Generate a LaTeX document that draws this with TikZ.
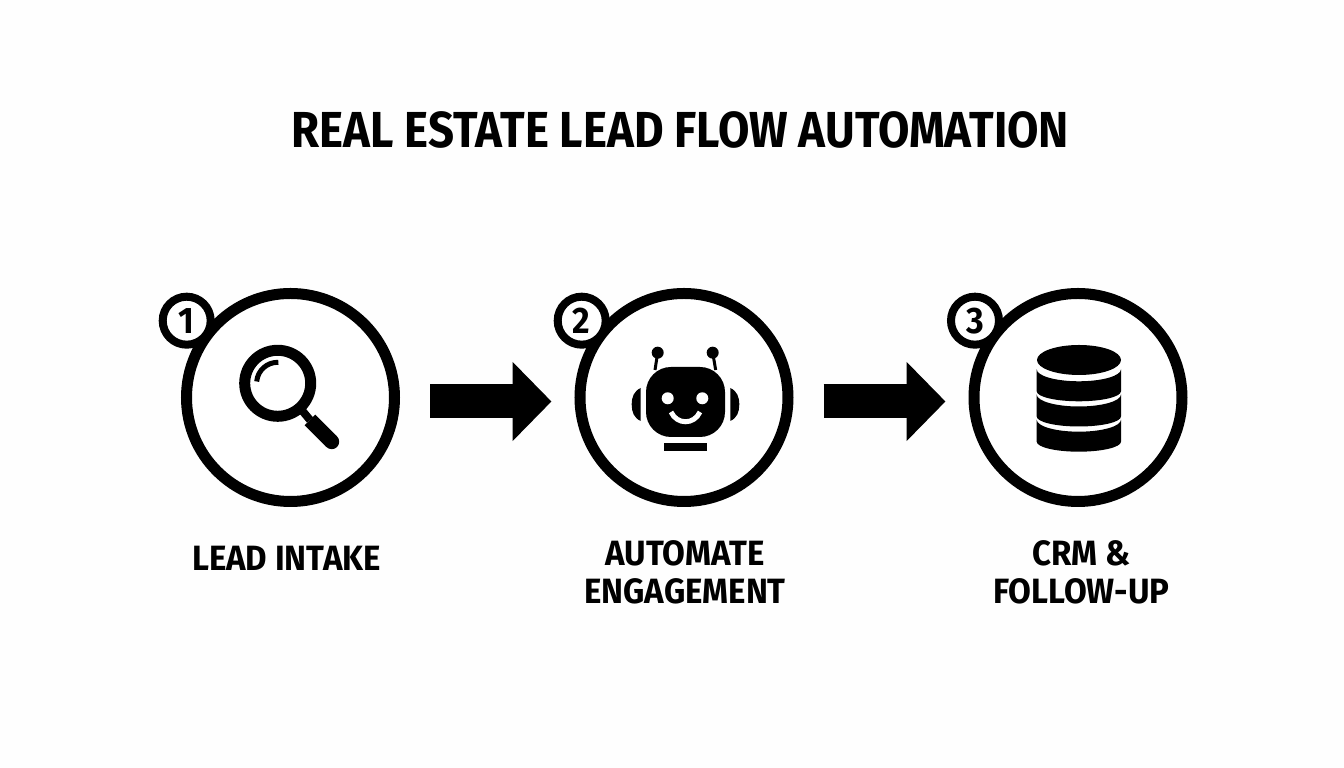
\documentclass[tikz,border=0pt]{standalone}
\usepackage{fontspec}
\setmainfont{Fira Sans}
\newfontfamily\titlefont[FakeStretch=0.9]{Fira Sans}
\newfontfamily\capfont[FakeStretch=0.94]{Fira Sans}
\newfontfamily\numfont[FakeStretch=0.92]{Fira Sans}
\usetikzlibrary{arrows.meta}
\definecolor{paper}{HTML}{FEFEFE}
\tikzset{
  stage/.style={circle,draw,fill=white,line width=0.11cm,minimum size=2.08cm,inner sep=0pt},
  badge/.style={circle,draw,fill=white,line width=0.08cm,minimum size=0.48cm,inner sep=0pt,font=\numfont\fontsize{10.5}{10.5}\selectfont\bfseries},
  flow/.style={-{Triangle[length=0.39cm,width=0.77cm]},line width=0.34cm,shorten <=0.30cm,shorten >=0.23cm},
  title/.style={font=\titlefont\fontsize{14.4}{14.4}\selectfont\bfseries},
  caption/.style={align=center,font=\capfont\fontsize{10}{10.8}\selectfont\bfseries}
}
\begin{document}
\begin{tikzpicture}
\useasboundingbox[fill=paper] (0,0) rectangle (13.44,7.68);
\node[title] (head) at (6.805,6.38) {REAL ESTATE LEAD FLOW AUTOMATION};
\node[stage] (lead) at (2.905,3.705) {};
\node[stage] (auto) at (6.84,3.705) {};
\node[stage] (crm) at (10.78,3.705) {};
\node[badge] (b1) at (1.867,4.473) {1};
\node[badge] (b2) at (5.817,4.473) {2};
\node[badge] (b3) at (9.75,4.473) {3};
\draw[flow] ([yshift=-0.04cm]lead.east) -- ([yshift=-0.04cm]auto.west);
\draw[flow] ([yshift=-0.04cm]auto.east) -- ([yshift=-0.04cm]crm.west);
\node[caption] (t1) at (2.865,2.10) {LEAD INTAKE};
\node[caption] (t2) at (6.85,1.96) {AUTOMATE\\ENGAGEMENT};
\node[caption] (t3) at (10.815,1.96) {CRM \&\\FOLLOW-UP};
% magnifier
\draw[line width=0.11cm] (2.777,3.847) circle (0.33);
\draw[line width=0.05cm] (2.567,3.865) arc (175:88:0.21);
\draw[line width=0.08cm] (3.0,3.6) -- (3.10,3.48);
\draw[line width=0.15cm] (3.10,3.48) -- (3.317,3.263);
\fill (3.317,3.263) circle (0.075);
% robot
\fill[rounded corners=0.25cm] (6.46,3.31) rectangle (7.25,4.01);
\fill[white] (6.677,3.697) circle (0.06);
\fill[white] (7.023,3.697) circle (0.06);
\draw[white,line width=0.05cm] (6.71,3.56) .. controls (6.77,3.43) and (6.94,3.43) .. (7.0,3.56);
\fill (6.407,3.80) -- (6.407,3.47) .. controls (6.34,3.50) and (6.317,3.56) .. (6.317,3.635) .. controls (6.317,3.71) and (6.34,3.77) .. (6.407,3.80) -- cycle;
\fill (7.303,3.80) -- (7.303,3.47) .. controls (7.37,3.50) and (7.393,3.56) .. (7.393,3.635) .. controls (7.393,3.71) and (7.37,3.77) .. (7.303,3.80) -- cycle;
\fill (6.577,4.153) circle (0.06);
\fill (7.127,4.153) circle (0.06);
\draw[line width=0.03cm] (6.577,4.153) -- (6.55,3.98);
\draw[line width=0.03cm] (7.127,4.153) -- (7.157,3.98);
\fill (6.64,3.173) rectangle (7.07,3.253);
% database
\fill (10.79,4.08) ellipse (0.42 and 0.15);
\foreach \y in {3.987,3.735,3.483} {
  \fill (10.367,\y) arc[start angle=180,end angle=360,x radius=0.4215,y radius=0.12]
    -- (11.21,\y-0.22) arc[start angle=360,end angle=180,x radius=0.4215,y radius=0.10] -- cycle;
}
\end{tikzpicture}
\end{document}
